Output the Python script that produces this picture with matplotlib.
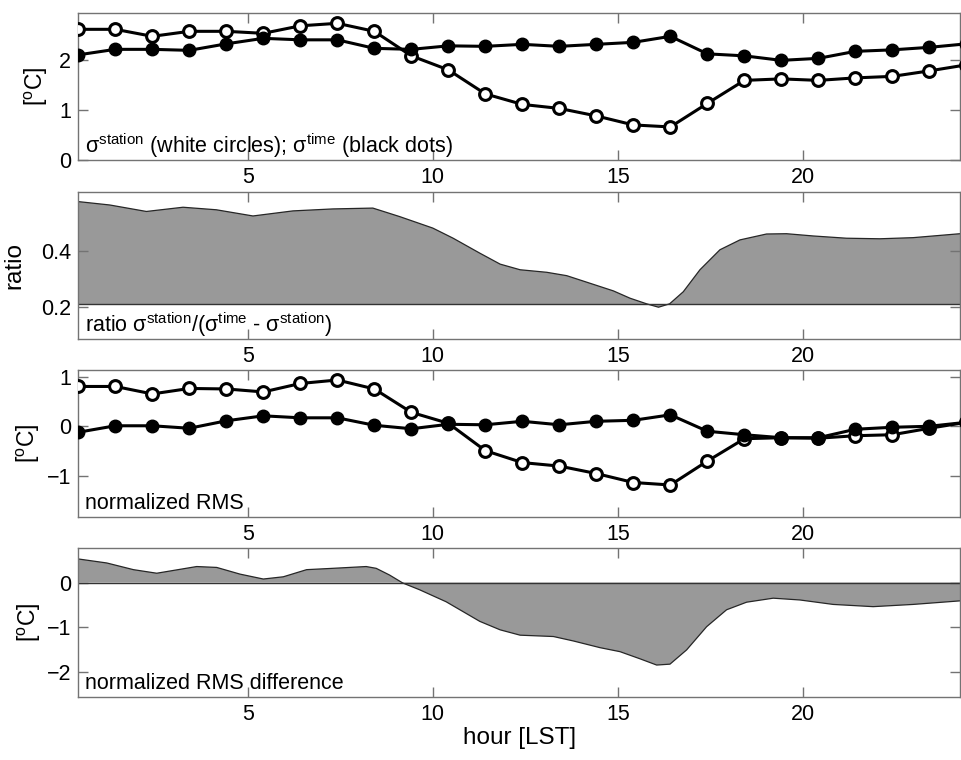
import matplotlib
matplotlib.use('Agg')
import matplotlib.pyplot as plt
import numpy as np

plt.rcParams['font.family'] = ['Liberation Sans', 'DejaVu Sans']
plt.rcParams['mathtext.fontset'] = 'custom'
plt.rcParams['mathtext.rm'] = 'Liberation Sans'
plt.rcParams['mathtext.it'] = 'Liberation Sans'
plt.rcParams['mathtext.default'] = 'rm'

# hourly samples (last one lies just beyond the right edge)
hours = [0.42 + k for k in range(25)]

sig_station = [2.61, 2.61, 2.47, 2.57, 2.57, 2.53, 2.68, 2.73, 2.57, 2.08,
               1.80, 1.32, 1.11, 1.03, 0.88, 0.70, 0.66, 1.13, 1.59, 1.62,
               1.59, 1.64, 1.67, 1.78, 1.90]
sig_time = [2.10, 2.21, 2.21, 2.19, 2.32, 2.43, 2.40, 2.40, 2.23, 2.21,
            2.28, 2.27, 2.31, 2.27, 2.31, 2.35, 2.47, 2.12, 2.08, 1.99,
            2.03, 2.17, 2.20, 2.25, 2.32]

norm_station = [0.80, 0.80, 0.65, 0.76, 0.75, 0.69, 0.86, 0.93, 0.75, 0.28,
                0.06, -0.49, -0.73, -0.80, -0.95, -1.13, -1.18, -0.70, -0.25, -0.23,
                -0.24, -0.19, -0.17, -0.04, 0.08]
norm_time = [-0.12, 0.01, 0.01, -0.04, 0.11, 0.21, 0.17, 0.17, 0.02, -0.05,
             0.04, 0.03, 0.10, 0.03, 0.10, 0.12, 0.23, -0.10, -0.17, -0.23,
             -0.23, -0.06, -0.02, 0.00, 0.08]

# ratio curve
ratio_h = [0.42, 1.27, 2.26, 3.25, 4.15, 5.14, 6.22, 7.30, 8.38, 9.10, 10.0,
           10.55, 11.27, 11.82, 12.36, 13.08, 13.62, 14.25, 14.88, 15.33, 15.78,
           16.10, 16.40, 16.77, 17.22, 17.76, 18.30, 19.02, 19.56, 20.28, 21.18,
           22.08, 22.98, 24.25]
ratio = [0.575, 0.563, 0.540, 0.555, 0.546, 0.524, 0.542, 0.549, 0.552, 0.522, 0.481,
         0.445, 0.392, 0.353, 0.333, 0.324, 0.312, 0.285, 0.258, 0.232, 0.212,
         0.200, 0.212, 0.255, 0.333, 0.404, 0.439, 0.460, 0.461, 0.453, 0.445,
         0.443, 0.447, 0.461]
ratio_base = 0.21

# normalized RMS difference curve
diff_h = [0.42, 1.19, 1.91, 2.54, 3.62, 4.16, 4.79, 5.42, 5.96, 6.59, 7.30,
          8.20, 8.47, 8.83, 9.19, 9.64, 10.36, 11.27, 11.82, 12.36, 13.26,
          13.80, 14.52, 15.06, 15.60, 16.05, 16.41, 16.86, 17.40, 17.94, 18.48,
          19.20, 19.92, 20.82, 21.90, 22.98, 24.25]
diff = [0.53, 0.44, 0.29, 0.21, 0.36, 0.34, 0.19, 0.08, 0.13, 0.29, 0.32,
        0.36, 0.32, 0.17, -0.01, -0.16, -0.43, -0.87, -1.06, -1.18, -1.21,
        -1.31, -1.46, -1.55, -1.71, -1.85, -1.83, -1.51, -0.99, -0.61, -0.44,
        -0.35, -0.39, -0.49, -0.54, -0.49, -0.41]

xticks = [5, 10, 15, 20]
xlim = (0.42, 24.25)
spine_c = '0.45'
fill_c = '#999999'
TICK_FS = 15.5
LAB_FS = 17.5
DEG_FS = 16.5
TXT_FS = 15.5

fig = plt.figure(figsize=(9.62, 7.6), dpi=100)
W = 0.9166
L = 0.0814
ax1 = fig.add_axes([L, 0.7895, W, 0.193])
ax2 = fig.add_axes([L, 0.5539, W, 0.1938])
ax3 = fig.add_axes([L, 0.3193, W, 0.1938])
ax4 = fig.add_axes([L, 0.0833, W, 0.1953])


def style(ax):
    ax.set_xlim(*xlim)
    ax.set_xticks(xticks)
    ax.tick_params(direction='in', top=True, right=True, length=7, width=1,
                   color=spine_c, labelsize=TICK_FS, pad=5)
    for s in ax.spines.values():
        s.set_color(spine_c)
        s.set_linewidth(1)


def dots(ax, st, tm):
    ax.plot(hours, st, '-o', color='black', lw=2.2, ms=8.5, mfc='white',
            mec='black', mew=2.2, zorder=3)
    ax.plot(hours, tm, '-o', color='black', lw=2.2, ms=9, mfc='black',
            mec='black', zorder=4)


# panel 1
dots(ax1, sig_station, sig_time)
ax1.set_ylim(0, 2.93)
ax1.set_yticks([0, 1, 2])
style(ax1)
ax1.set_ylabel(r'[$^{\rm o}$C]', fontsize=DEG_FS)
ax1.yaxis.set_label_coords(-0.032, 0.5)
ax1.text(0.008, 0.0, r'$\sigma^{\rm station}$ (white circles); $\sigma^{\rm time}$ (black dots)',
         transform=ax1.transAxes, fontsize=TXT_FS, va='bottom', ha='left')

# panel 2
ax2.fill_between(ratio_h, ratio, ratio_base, facecolor=fill_c, edgecolor='none')
ax2.plot(ratio_h, ratio, color='0.15', lw=0.9)
ax2.axhline(ratio_base, color='0.2', lw=1)
ax2.set_ylim(0.087, 0.61)
ax2.set_yticks([0.2, 0.4])
ax2.set_yticklabels(['0.2', '0.4'])
style(ax2)
ax2.set_ylabel('ratio', fontsize=LAB_FS)
ax2.yaxis.set_label_coords(-0.060, 0.5)
ax2.text(0.008, 0.0, r'ratio $\sigma^{\rm station}$/($\sigma^{\rm time}$ - $\sigma^{\rm station}$)',
         transform=ax2.transAxes, fontsize=TXT_FS, va='bottom', ha='left')

# panel 3
dots(ax3, norm_station, norm_time)
ax3.set_ylim(-1.83, 1.13)
ax3.set_yticks([-1, 0, 1])
style(ax3)
ax3.set_ylabel(r'[$^{\rm o}$C]', fontsize=DEG_FS)
ax3.yaxis.set_label_coords(-0.041, 0.5)
ax3.text(0.008, 0.02, 'normalized RMS', transform=ax3.transAxes,
         fontsize=TXT_FS, va='bottom', ha='left')

# panel 4
ax4.fill_between(diff_h, diff, 0, facecolor=fill_c, edgecolor='none')
ax4.plot(diff_h, diff, color='0.15', lw=0.9)
ax4.axhline(0, color='0.2', lw=1)
ax4.set_ylim(-2.56, 0.77)
ax4.set_yticks([-2, -1, 0])
style(ax4)
ax4.set_ylabel(r'[$^{\rm o}$C]', fontsize=DEG_FS)
ax4.yaxis.set_label_coords(-0.040, 0.5)
ax4.text(0.008, 0.02, 'normalized RMS difference', transform=ax4.transAxes,
         fontsize=TXT_FS, va='bottom', ha='left')
ax4.set_xlabel('hour [LST]', fontsize=LAB_FS, labelpad=2)

fig.savefig('out.png', dpi=100)
